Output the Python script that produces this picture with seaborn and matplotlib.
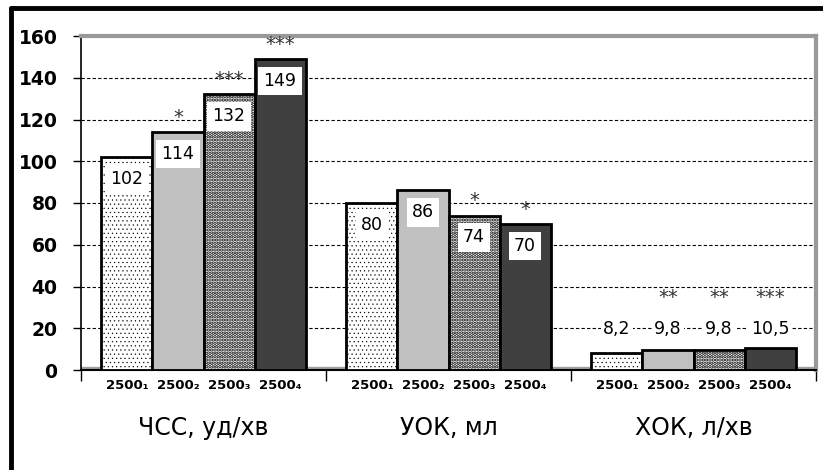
import seaborn as sns
import pandas as pd
import matplotlib.pyplot as plt
from matplotlib.lines import Line2D

groups = ['ЧСС, уд/хв', 'УОК, мл', 'ХОК, л/хв']
subs = ['2500₁', '2500₂', '2500₃', '2500₄']
chss = [102, 114, 132, 149]
uok = [80, 86, 74, 70]
hok = [8.2, 9.8, 9.8, 10.5]
stars_chss = ['', '*', '***', '***']
stars_uok = ['', '', '*', '*']
stars_hok = ['', '**', '**', '***']
yticks = [0, 20, 40, 60, 80, 100, 120, 140, 160]

rows = []
for g, vals, st in zip(groups, [chss, uok, hok], [stars_chss, stars_uok, stars_hok]):
    for s, v, a in zip(subs, vals, st):
        rows.append({'group': g, 'sub': s, 'value': v, 'stars': a})
df = pd.DataFrame(rows)

sns.set_style('white')
plt.rcParams['font.family'] = ['DejaVu Sans']
plt.rcParams['text.color'] = 'black'
plt.rcParams['xtick.color'] = 'black'
plt.rcParams['ytick.color'] = 'black'
plt.rcParams['xtick.labelcolor'] = 'black'
plt.rcParams['ytick.labelcolor'] = 'black'

fig = plt.figure(figsize=(8.23, 4.7), dpi=100)
ax = fig.add_axes([81 / 823, 1 - 370 / 470, 735 / 823, 334 / 470])

colors = ['white', '#c0c0c0', 'white', '#404040']
hatches = ['....', '', '.....', '']
hatch_lw = [0.35, 1, 1.7, 1]
sns.barplot(data=df, x='group', y='value', hue='sub', order=groups, hue_order=subs,
            palette=colors, width=0.833, gap=0, errorbar=None, edgecolor='black',
            linewidth=2, saturation=1, legend=False, ax=ax, zorder=3)

for cont, h, hl in zip(ax.containers, hatches, hatch_lw):
    for bar in cont:
        bar.set_hatch(h)
        if hasattr(bar, 'set_hatch_linewidth'):
            bar.set_hatch_linewidth(hl)

ax.set_ylim(0, 160)
ax.set_xlim(-0.5, 2.5)
ax.set_yticks(yticks)
ax.set_yticklabels([str(t) for t in yticks], fontweight='bold', fontsize=13.5, color='black')
ax.tick_params(axis='y', direction='out', length=6, width=1, pad=11, left=True)
ax.set_xticks([-0.5, 0.5, 1.5, 2.5])
ax.set_xticklabels([])
ax.tick_params(axis='x', direction='out', length=8, width=1, bottom=True)
ax.set_xlabel('')
ax.set_ylabel('')

for t in yticks[1:-1]:
    ax.axhline(t, color='black', lw=0.8, ls=(0, (3, 2)), zorder=1)
ax.axhspan(0, 1.5, color='#a0a0a0', zorder=2)

for side in ['top', 'right']:
    ax.spines[side].set_color('#999999')
    ax.spines[side].set_linewidth(3)
ax.spines['left'].set_color('black')
ax.spines['left'].set_linewidth(1.2)
ax.spines['bottom'].set_color('black')
ax.spines['bottom'].set_linewidth(1.5)

# labels from drawn bars
for i, cont in enumerate(ax.containers):
    for j, bar in enumerate(cont):
        x = bar.get_x() + bar.get_width() / 2
        v = bar.get_height()
        r = df[(df['group'] == groups[j]) & (df['sub'] == subs[i])].iloc[0]
        txt = ('%g' % v).replace('.', ',')
        if j < 2:
            ax.text(x, v - 10.5, txt, ha='center', va='center', fontsize=12.5, zorder=5,
                    bbox=dict(boxstyle='square,pad=0.3', fc='white', ec='none'))
            sy = v + 7
        else:
            ax.text(x, 19.5, txt, ha='center', va='center', fontsize=12.5, zorder=5,
                    bbox=dict(boxstyle='square,pad=0.15', fc='white', ec='none'))
            sy = 34.5
        if r['stars']:
            ax.text(x, sy, r['stars'], ha='center', va='center', fontsize=14,
                    color='#333333', zorder=5)
        ax.text(x, -0.045, subs[i], transform=ax.get_xaxis_transform(), ha='center',
                va='center', fontsize=9.5, fontweight='bold')

for k, g in enumerate(groups):
    ax.text(k, -0.175, g, transform=ax.get_xaxis_transform(), ha='center',
            va='center', fontsize=17)

fig.add_artist(Line2D([11 / 823, 11 / 823], [0, 1 - 8 / 470], color='black', lw=3.5))
fig.add_artist(Line2D([11 / 823, 1], [1 - 8 / 470, 1 - 8 / 470], color='black', lw=3.5))

fig.savefig('out.png', dpi=100)
